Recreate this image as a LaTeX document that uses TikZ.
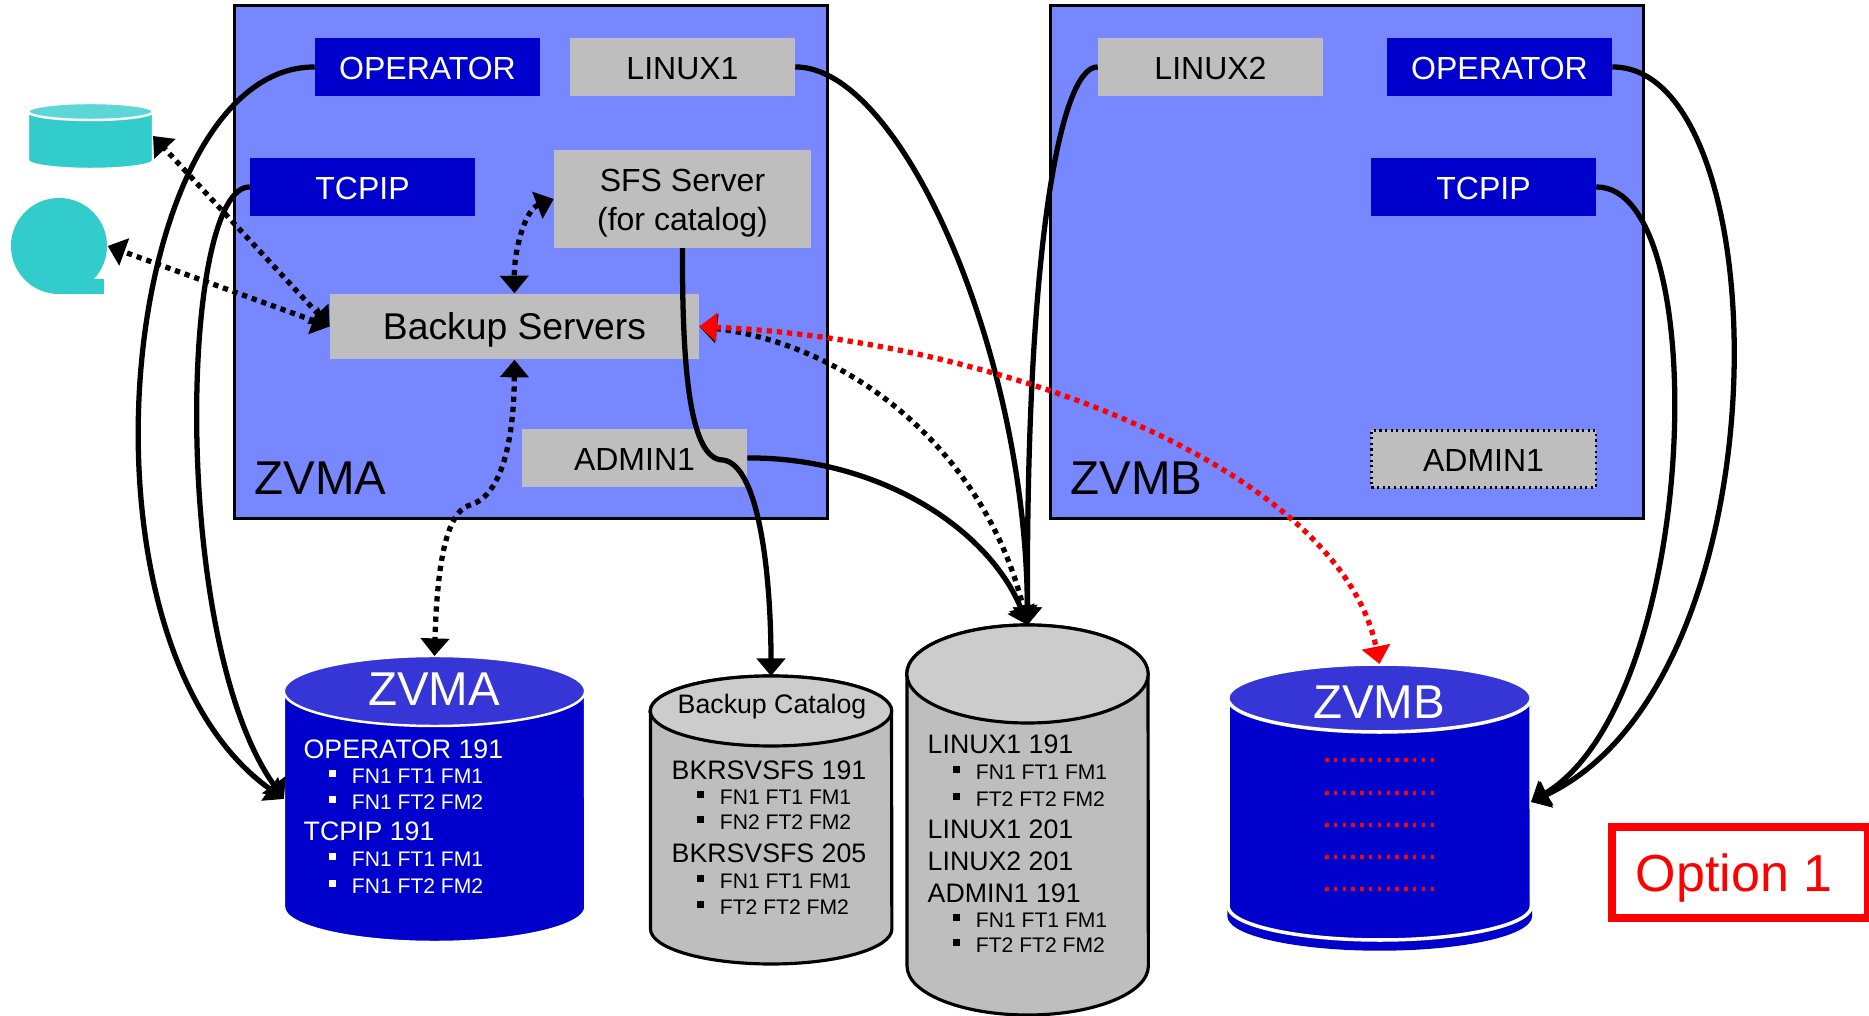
\documentclass[tikz,border=0pt]{standalone}
\usepackage{fontspec}
\setmainfont{Liberation Sans}
\usetikzlibrary{arrows.meta}
\definecolor{zvmfill}{HTML}{7788FF}
\definecolor{userblue}{HTML}{0000CC}
\definecolor{disktop}{HTML}{3636D6}
\definecolor{usergrey}{HTML}{BEBEBE}
\definecolor{diskgrey}{HTML}{CCCCCC}
\definecolor{teal}{HTML}{33CCCC}
\definecolor{tealtop}{HTML}{5CD6D6}
\newcommand{\filebullet}{\rule[.55ex]{2pt}{2pt}\hspace{4.6pt}}
% name, x, top, width, height, end radius, body, end, line
\newcommand{\disknode}[9]{
  \pgfmathsetmacro{\dl}{#2-#4/2}
  \pgfmathsetmacro{\dr}{#2+#4/2}
  \pgfmathsetmacro{\dt}{#3+#6}
  \pgfmathsetmacro{\db}{#3+#5-#6}
  \pgfmathsetmacro{\dc}{#3+#5/2}
  \node[inner sep=0pt,outer sep=0pt,minimum width=#4*.01cm,minimum height=#5*.01cm] (#1) at (#2,\dc) {};
  \filldraw[fill=#7,#9] (\dl,\dt) -- (\dl,\db) arc[start angle=180,end angle=360,x radius=#4*.005cm,y radius=#6*.01cm] -- (\dr,\dt) arc[start angle=0,end angle=180,x radius=#4*.005cm,y radius=#6*.01cm] -- cycle;
  \filldraw[fill=#8,#9] (#2,\dt) ellipse[x radius=#4*.005cm,y radius=#6*.01cm];
}
\tikzset{
  zvmbox/.style={draw=black,line width=.85pt,fill=zvmfill,inner sep=0pt},
  userbox/.style={fill=#1,inner sep=0pt,minimum width=2.24cm,minimum height=.57cm,text height=7.2pt,text depth=0pt,font=\fontsize{9.1}{11}\selectfont},
  darkuser/.style={userbox=userblue,text=white},
  greyuser/.style={userbox=usergrey},
  sysname/.style={anchor=west,inner sep=0pt,font=\fontsize{13.5}{16}\selectfont},
  listhead/.style={anchor=west,inner sep=0pt,font=\fontsize{7.6}{9}\selectfont},
  listitem/.style={anchor=west,inner sep=0pt,font=\fontsize{6}{7}\selectfont},
  link/.style={line width=1.5pt,>={Triangle[length=5pt,width=8pt]}},
  dotlink/.style={link,dash pattern=on 1.5pt off 1.4pt},
  whiteline/.style={draw=white,line width=.7pt},
  blackline/.style={draw=black,line width=.9pt},
}
\begin{document}
\begin{tikzpicture}[x=.01cm,y=-.01cm]
  \useasboundingbox (0,0) rectangle (1869,1016);
  \node[zvmbox,minimum width=5.92cm,minimum height=5.12cm] (zvma) at (531,262) {};
  \node[zvmbox,minimum width=5.92cm,minimum height=5.12cm] (zvmb) at (1347,262) {};
  \node[sysname] (zvmaname) at (254,478) {ZVMA};
  \node[sysname] (zvmbname) at (1070,478) {ZVMB};

  \node[darkuser] (operatora) at (427.5,67) {OPERATOR};
  \node[greyuser] (linuxa) at (682.5,67) {LINUX1};
  \node[darkuser] (tcpipa) at (362.5,187) {TCPIP};
  \node[greyuser,minimum width=2.56cm,minimum height=.97cm,text height=,text depth=,align=center] (sfs) at (682.5,199) {\rule{0pt}{8.6pt}SFS Server\\(for catalog)};
  \node[greyuser,minimum width=3.68cm,minimum height=.65cm,text height=,font=\fontsize{10.6}{14}\selectfont] (backup) at (514.5,326.5) {Backup Servers};
  \node[greyuser] (admina) at (634.5,458) {ADMIN1};
  \node[greyuser] (linuxb) at (1210.5,67) {LINUX2};
  \node[darkuser] (operatorb) at (1499.5,67) {OPERATOR};
  \node[darkuser] (tcpipb) at (1483.5,187) {TCPIP};
  \node[greyuser,draw=black,densely dotted,line width=.6pt] (adminb) at (1483.5,459) {ADMIN1};

  \disknode{smalldisk}{90.5}{103}{125}{66}{8.5}{teal}{tealtop}{whiteline}
  \node[circle,fill=teal,inner sep=0pt,minimum size=.96cm] (tape) at (59,246) {};
  \fill[teal] (59,279) rectangle (104,294);

  \disknode{zvmadisk}{434.5}{656}{301}{286}{35}{userblue}{disktop}{whiteline}
  \node[sysname,anchor=center,text=white] (zvmadiskname) at (434,689) {ZVMA};
  \foreach \i/\ty/\tx in {1/749/OPERATOR 191,2/831/TCPIP 191} {
    \node[listhead,text=white] (zvmahead\i) at (303,\ty) {\tx};
  }
  \foreach \i/\ty/\tx in {1/776/FN1 FT1 FM1,2/802/FN1 FT2 FM2,3/859/FN1 FT1 FM1,4/886/FN1 FT2 FM2} {
    \node[listitem,text=white] (zvmaitem\i) at (328,\ty) {\filebullet\tx};
  }

  \disknode{catalog}{771}{676}{241}{288}{35}{usergrey}{diskgrey}{blackline}
  \node[listhead] (catalogname) at (677,707) {Backup Catalog};
  \foreach \i/\ty/\tx in {1/770/BKRSVSFS 191,2/853/BKRSVSFS 205} {
    \node[listhead] (cataloghead\i) at (671,\ty) {\tx};
  }
  \foreach \i/\ty/\tx in {1/797/FN1 FT1 FM1,2/822/FN2 FT2 FM2,3/881/FN1 FT1 FM1,4/907/FT2 FT2 FM2} {
    \node[listitem] (catalogitem\i) at (696,\ty) {\filebullet\tx};
  }

  \disknode{linuxdisk}{1027.5}{625}{241}{390}{49}{usergrey}{diskgrey}{blackline}
  \foreach \i/\ty/\tx in {1/744/LINUX1 191,2/829/LINUX1 201,3/861/LINUX2 201,4/893/ADMIN1 191} {
    \node[listhead] (linuxhead\i) at (927,\ty) {\tx};
  }
  \foreach \i/\ty/\tx in {1/772/FN1 FT1 FM1,2/799/FT2 FT2 FM2,3/920/FN1 FT1 FM1,4/945/FT2 FT2 FM2} {
    \node[listitem] (linuxitem\i) at (952,\ty) {\filebullet\tx};
  }

  \disknode{zvmbbase}{1379.5}{674}{303}{276}{34}{userblue}{userblue}{draw=userblue}
  \disknode{zvmbdisk}{1379.5}{664}{303}{276}{34}{userblue}{disktop}{draw=white,line width=1pt}
  \node[sysname,anchor=center,text=white] (zvmbdiskname) at (1379,702) {ZVMB};
  \foreach \ty in {760,793,825,857,889} {
    \draw[red,line width=1pt,dash pattern=on 1pt off 1.5pt] (1325,\ty) -- (1437,\ty);
  }

  \node[draw=red,line width=2.3pt,text=red,inner sep=0pt,minimum width=2.55cm,minimum height=.91cm,text depth=0pt,font=\fontsize{14.8}{17}\selectfont] (option) at (1740,872.5) {Option 1\kern3.4pt};

  \draw[link,->] (operatora.west) .. controls (120,66) and (60,640) .. (zvmadisk.west);
  \draw[link,->] (tcpipa.west) .. controls (180,186) and (170,640) .. (zvmadisk.west);
  \draw[link,->] (linuxa.east) .. controls (900,66) and (1026,350) .. (linuxdisk.north);
  \draw[link,->] (linuxb.west) .. controls (1060,66) and (1026,250) .. (linuxdisk.north);
  \draw[link,->] (admina.east) .. controls (880,457) and (990,530) .. (linuxdisk.north);
  \draw[link,->] (operatorb.east) .. controls (1780,66) and (1790,680) .. (zvmbdisk.east);
  \draw[link,->] (tcpipb.east) .. controls (1715,186) and (1700,700) .. (zvmbdisk.east);
  \draw[link,->] (sfs.south) .. controls (682,370) and (690,460) .. (723,460) .. controls (760,465) and (771,580) .. (catalog.north);

  \draw[dotlink,<->] (backup.west) -- (smalldisk.east);
  \draw[dotlink,<->] (backup.west) -- (tape.east);
  \draw[dotlink,<->] (sfs.west) .. controls (525,210) and (514,250) .. (backup.north);
  \draw[dotlink,<->] (backup.south) .. controls (514,430) and (505,495) .. (470,505) .. controls (445,512) and (437,570) .. (zvmadisk.north);
  \draw[dotlink,<->] (backup.east) .. controls (850,345) and (985,450) .. (linuxdisk.north);
  \draw[dotlink,red,<->] (backup.east) .. controls (1000,340) and (1340,470) .. (zvmbdisk.north);
\end{tikzpicture}
\end{document}
